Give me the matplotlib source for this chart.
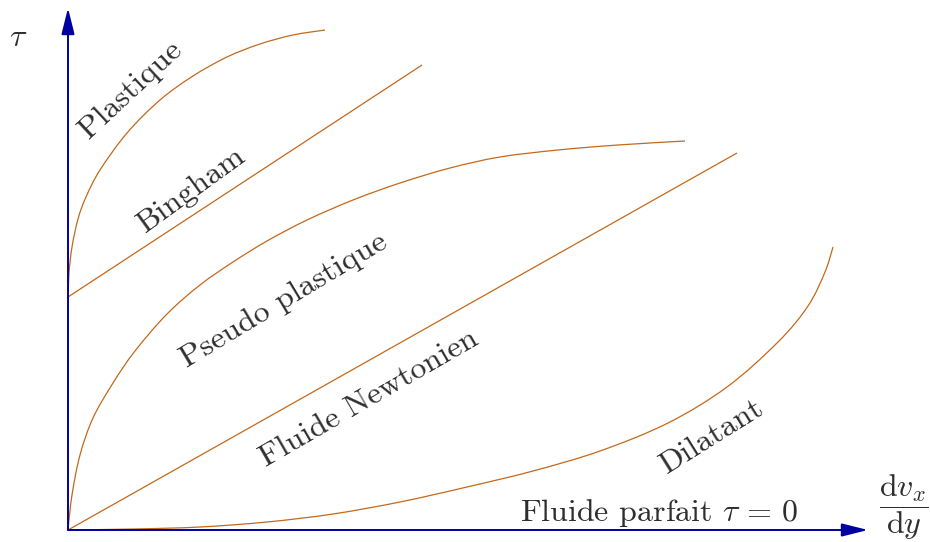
import numpy as np
import matplotlib.pyplot as plt
from matplotlib.path import Path
from matplotlib.patches import PathPatch

plt.rcParams['mathtext.fontset'] = 'cm'
plt.rcParams['font.family'] = 'cmr10'
plt.rcParams['axes.formatter.use_mathtext'] = True

# shear rate (x) / shear stress (y), arbitrary units
plastique_x = [0, 1, 4, 10, 18, 32, 59, 92, 125, 159, 192, 225, 257]
plastique_y = [232, 257, 283, 311, 333, 360, 397, 430, 454, 473, 486, 495, 500]

bingham_x = [0, 354]
bingham_y = [233, 465]

pseudo_x = [0, 4, 12, 25, 45, 67, 99, 132, 165, 199, 239, 285, 332, 382, 432, 490, 550, 617]
pseudo_y = [0, 35, 75, 112, 147, 179, 216, 245, 268, 289, 310, 330, 347, 362, 373, 380, 385, 389]

newton_x = [0, 669]
newton_y = [0, 377]

dilatant_x = [0, 66, 132, 199, 265, 332, 399, 465, 532, 600, 659, 710, 740, 757, 765]
dilatant_y = [0, 1, 3, 8, 16, 28, 43, 59, 79, 107, 143, 188, 224, 258, 283]

curve_color = '#c4681a'
axis_color = '#0000a0'
text_color = '#2e2e2e'


def smooth_path(xs, ys):
    # Catmull-Rom through the points, written as cubic Bezier segments
    p = np.column_stack([xs, ys]).astype(float)
    if len(p) == 2:
        return Path(p)
    ext = np.vstack([p[0], p, p[-1]])
    verts = [p[0]]
    codes = [Path.MOVETO]
    for i in range(1, len(ext) - 2):
        p0, p1, p2, p3 = ext[i - 1], ext[i], ext[i + 1], ext[i + 2]
        verts += [p1 + (p2 - p0) / 6, p2 - (p3 - p1) / 6, p2]
        codes += [Path.CURVE4] * 3
    return Path(verts, codes)


fig = plt.figure(figsize=(9.3, 5.42), dpi=100)
ax = fig.add_axes([0, 0, 1, 1])
ax.set_xlim(-68, 862)
ax.set_ylim(-12, 530)
ax.axis('off')

# axes as arrows
ax.annotate('', xy=(0, 522), xytext=(0, 0),
            arrowprops=dict(arrowstyle='-|>,head_length=1.6,head_width=0.4',
                            color=axis_color, lw=1.4, shrinkA=0, shrinkB=0))
ax.annotate('', xy=(800, 0), xytext=(0, 0),
            arrowprops=dict(arrowstyle='-|>,head_length=1.6,head_width=0.4',
                            color=axis_color, lw=1.4, shrinkA=0, shrinkB=0))

for xs, ys in [(plastique_x, plastique_y), (bingham_x, bingham_y),
               (pseudo_x, pseudo_y), (newton_x, newton_y),
               (dilatant_x, dilatant_y)]:
    ax.add_patch(PathPatch(smooth_path(xs, ys), facecolor='none',
                           edgecolor=curve_color, lw=0.9))

fs = 23
kw = dict(color=text_color, fontsize=fs, ha='center', va='center', rotation_mode='anchor')
ax.text(63, 440, 'Plastique', rotation=43, **kw)
ax.text(124, 340, 'Bingham', rotation=36, **kw)
ax.text(216, 230, 'Pseudo plastique', rotation=31, **kw)
ax.text(301, 131, 'Fluide Newtonien', rotation=30, **kw)
ax.text(644, 93, 'Dilatant', rotation=32, **kw)
ax.text(452, 9, r'Fluide parfait $\tau\,=\,0$', color=text_color, fontsize=fs,
        ha='left', va='baseline')
ax.text(-50, 492, r'$\tau$', **kw)
ax.text(836, 23, r'$\dfrac{\mathrm{d}v_x}{\mathrm{d}y}$', color=text_color,
        fontsize=fs, ha='center', va='center')

fig.savefig('out.png', dpi=100)
